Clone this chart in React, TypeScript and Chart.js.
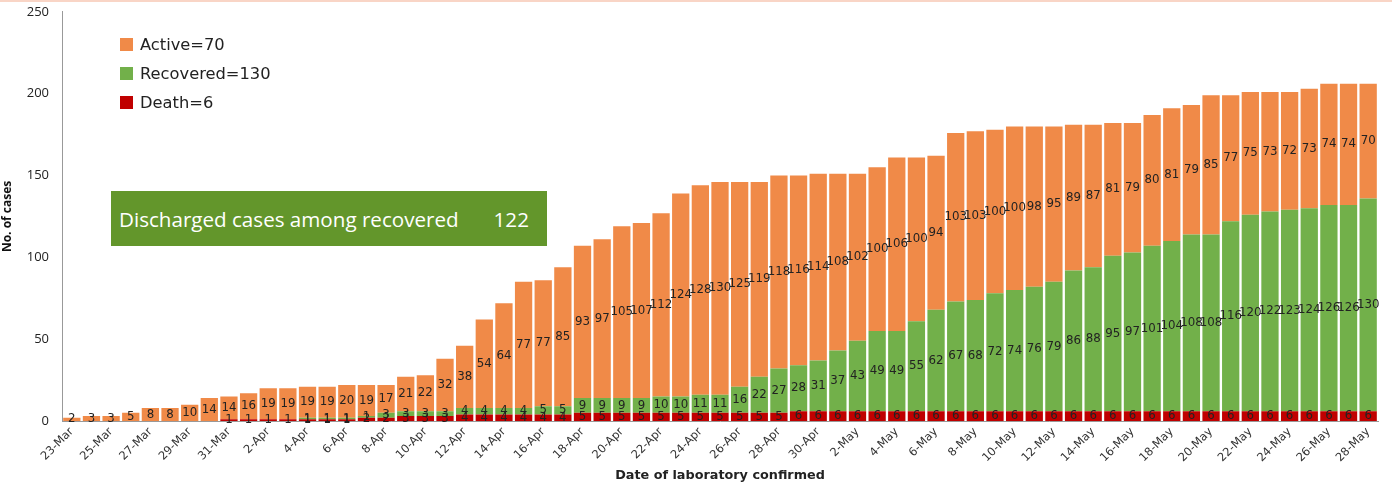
import { useEffect, useRef } from 'react'
import { Chart, registerables } from 'chart.js'
Chart.register(...registerables)

const DATES = [
  '23-Mar','24-Mar','25-Mar','26-Mar','27-Mar','28-Mar','29-Mar','30-Mar','31-Mar',
  '1-Apr','2-Apr','3-Apr','4-Apr','5-Apr','6-Apr','7-Apr','8-Apr','9-Apr','10-Apr',
  '11-Apr','12-Apr','13-Apr','14-Apr','15-Apr','16-Apr','17-Apr','18-Apr','19-Apr','20-Apr',
  '21-Apr','22-Apr','23-Apr','24-Apr','25-Apr','26-Apr','27-Apr','28-Apr','29-Apr','30-Apr',
  '1-May','2-May','3-May','4-May','5-May','6-May','7-May','8-May','9-May','10-May',
  '11-May','12-May','13-May','14-May','15-May','16-May','17-May','18-May','19-May','20-May',
  '21-May','22-May','23-May','24-May','25-May','26-May','27-May','28-May',
]

const DEATH = [
  0,0,0,0,0,0,0,0,1,
  1,1,1,1,1,1,2,2,3,3,
  3,4,4,4,4,4,4,5,5,5,
  5,5,5,5,5,5,5,5,6,6,
  6,6,6,6,6,6,6,6,6,6,
  6,6,6,6,6,6,6,6,6,6,
  6,6,6,6,6,6,6,6,
]

const RECOVERED = [
  0,0,0,0,0,0,0,0,0,
  0,0,0,1,1,1,1,3,3,3,
  3,4,4,4,4,5,5,9,9,9,
  9,10,10,11,11,16,22,27,28,31,
  37,43,49,49,55,62,67,68,72,74,
  76,79,86,88,95,97,101,104,108,108,
  116,120,122,123,124,126,126,130,
]

const ACTIVE = [
  2,3,3,5,8,8,10,14,14,
  16,19,19,19,19,20,19,17,21,22,
  32,38,54,64,77,77,85,93,97,105,
  107,112,124,128,130,125,119,118,116,114,
  108,102,100,106,100,94,103,103,100,100,
  98,95,89,87,81,79,80,81,79,85,
  77,75,73,72,73,74,74,70,
]

const DISCHARGED = 122

const C_ACTIVE = '#F08A48'
const C_REC = '#72B04A'
const C_DEATH = '#C00000'

const valueLabels = {
  id: 'valueLabels',
  afterDatasetsDraw(chart: Chart) {
    const ctx = chart.ctx
    ctx.save()
    ctx.font = "11.8px 'DejaVu Sans'"
    ctx.fillStyle = '#222'
    ctx.textAlign = 'center'
    ctx.textBaseline = 'middle'
    chart.data.datasets.forEach((ds, di) => {
      const meta = chart.getDatasetMeta(di)
      meta.data.forEach((el: any, i) => {
        const v = ds.data[i] as number
        if (!v) return
        ctx.fillText(String(v), el.x, (el.y + el.base) / 2)
      })
    })
    ctx.restore()
  },
}

export default function App() {
  const ref = useRef<HTMLCanvasElement>(null)

  useEffect(() => {
    if (!ref.current) return
    const chart = new Chart(ref.current, {
      type: 'bar',
      data: {
        labels: DATES,
        datasets: [
          { label: 'Death', data: DEATH, backgroundColor: C_DEATH, barPercentage: 0.88, categoryPercentage: 1 },
          { label: 'Recovered', data: RECOVERED, backgroundColor: C_REC, barPercentage: 0.88, categoryPercentage: 1 },
          { label: 'Active', data: ACTIVE, backgroundColor: C_ACTIVE, barPercentage: 0.88, categoryPercentage: 1 },
        ],
      },
      options: {
        responsive: false,
        animation: false,
        layout: { padding: { top: 4, right: 14, left: 0, bottom: 0 } },
        plugins: { legend: { display: false }, tooltip: { enabled: false } },
        scales: {
          x: {
            stacked: true,
            grid: { display: false, drawTicks: false },
            border: { color: '#999', width: 1 },
            ticks: {
              autoSkip: false, maxRotation: 45, minRotation: 45, padding: 4,
              color: '#333', font: { size: 11.5, family: "'DejaVu Sans'" },
              callback: (_v, i) => (i % 2 === 0 ? DATES[i] : ''),
            },
            title: { display: true, text: 'Date of laboratory confirmed', color: '#222', font: { size: 12.8, weight: 'bold', family: "'DejaVu Sans'" }, padding: { top: 2, bottom: 4 } },
            afterFit: (s: any) => { s.height = 66 },
          },
          y: {
            stacked: true,
            min: 0, max: 250,
            grid: { display: false, drawTicks: true, tickLength: 5, tickColor: '#999' } as never,
            border: { color: '#999', width: 1 },
            ticks: { stepSize: 50, color: '#222', padding: 8, font: { size: 13, family: "'Open Sans'" } },
            title: { display: true, text: 'No. of cases', color: '#111', font: { size: 12, weight: 'bold', family: "'Open Sans'" }, padding: { top: 0, bottom: 4 } },
            afterFit: (s: any) => { s.width = 62 },
          },
        },
      },
      plugins: [valueLabels],
    })
    return () => chart.destroy()
  }, [])

  const legend: [string, string][] = [
    [C_ACTIVE, `Active=${ACTIVE[ACTIVE.length - 1]}`],
    [C_REC, `Recovered=${RECOVERED[RECOVERED.length - 1]}`],
    [C_DEATH, `Death=${DEATH[DEATH.length - 1]}`],
  ]

  return (
    <div style={{ position: 'fixed', left: 0, top: 0, width: 1392, height: 487, background: '#fff', fontFamily: "'Open Sans', sans-serif", overflow: 'hidden' }}>
      <canvas ref={ref} width={1392} height={491} style={{ position: 'absolute', left: 0, top: -4 }} />
      <div style={{ position: 'absolute', left: 0, top: 0, width: 1392, height: 2, background: '#F9D5C6' }} />
      <div style={{ position: 'absolute', left: 120, top: 29.5, fontFamily: "'DejaVu Sans', sans-serif" }}>
        {legend.map(([c, l]) => (
          <div key={l} style={{ display: 'flex', alignItems: 'center', height: 29, fontSize: 16.3, color: '#222' }}>
            <div style={{ width: 13, height: 13, background: c, marginRight: 7 }} />{l}
          </div>
        ))}
      </div>
      <div style={{ position: 'absolute', left: 111, top: 191, width: 436, height: 55, background: '#63962B', color: '#fff', fontSize: 20.6, display: 'flex', alignItems: 'center', boxSizing: 'border-box', paddingLeft: 8 }}>
        <span>Discharged cases among recovered</span>
        <span style={{ marginLeft: 35 }}>{DISCHARGED}</span>
      </div>
    </div>
  )
}
